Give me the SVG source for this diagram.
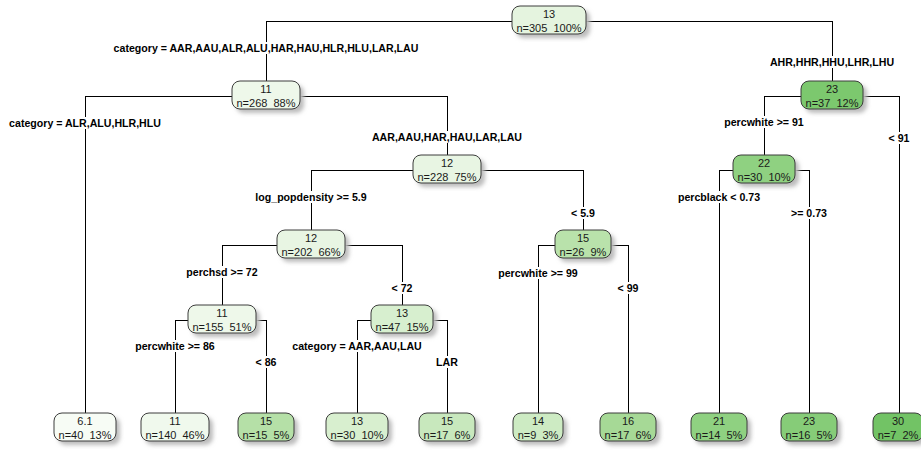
<svg xmlns="http://www.w3.org/2000/svg" width="921" height="451" viewBox="0 0 921 451">
  <defs>
    <filter id="soft" x="-20%" y="-40%" width="140%" height="180%">
      <feGaussianBlur stdDeviation="2"/>
    </filter>
    <style>
      .edge { stroke: #000; stroke-width: 1; fill: none; }
      .lbl { font-family: "Liberation Sans", Arial, sans-serif; font-size: 10.6px; font-weight: bold; text-anchor: middle; fill: #000; }
      .shadow { fill: #bcbcbc; filter: url(#soft); }
      .box { stroke: #3c3c3c; stroke-width: 1; }
      .nt { font-family: "Liberation Sans", Arial, sans-serif; font-size: 11px; text-anchor: middle; fill: #1a1a1a; }
    </style>
  </defs>
  <rect width="921" height="451" fill="#fff"/>

  <!-- branches: horizontal bars under each split, verticals broken where the split label sits -->
  <g id="connectors">
    <path class="edge" d="
      M266,21.5 H832
      M266.5,21 V42 M266.5,54 V81
      M832.5,21 V56 M832.5,68 V81
      M85,96.5 H447
      M85.5,96 V117 M85.5,129 V413
      M447.5,96 V131 M447.5,143 V155
      M764,96.5 H899
      M764.5,96 V116 M764.5,128 V155
      M899.5,96 V132 M899.5,144 V413
      M311,170.5 H583
      M311.5,170 V191 M311.5,203 V230
      M583.5,170 V207 M583.5,219 V230
      M719,170.5 H809
      M719.5,170 V191 M719.5,203 V413
      M809.5,170 V207 M809.5,219 V413
      M222,245.5 H402
      M222.5,245 V266 M222.5,278 V305
      M402.5,245 V282 M402.5,294 V305
      M538,245.5 H628
      M538.5,245 V267 M538.5,279 V413
      M628.5,245 V282 M628.5,294 V413
      M175,320.5 H266
      M175.5,320 V340 M175.5,352 V413
      M266.5,320 V356 M266.5,368 V413
      M357,320.5 H447
      M357.5,320 V340 M357.5,352 V413
      M447.5,320 V356 M447.5,368 V413"/>
    <text class="lbl" x="266" y="52">category = AAR,AAU,ALR,ALU,HAR,HAU,HLR,HLU,LAR,LAU</text>
    <text class="lbl" x="832" y="66">AHR,HHR,HHU,LHR,LHU</text>
    <text class="lbl" x="85" y="127">category = ALR,ALU,HLR,HLU</text>
    <text class="lbl" x="447" y="141">AAR,AAU,HAR,HAU,LAR,LAU</text>
    <text class="lbl" x="764" y="126">percwhite &gt;= 91</text>
    <text class="lbl" x="899" y="142">&lt; 91</text>
    <text class="lbl" x="311" y="201">log_popdensity &gt;= 5.9</text>
    <text class="lbl" x="583" y="217">&lt; 5.9</text>
    <text class="lbl" x="719" y="201">percblack &lt; 0.73</text>
    <text class="lbl" x="809" y="217">&gt;= 0.73</text>
    <text class="lbl" x="222" y="276">perchsd &gt;= 72</text>
    <text class="lbl" x="402" y="292">&lt; 72</text>
    <text class="lbl" x="538" y="277">percwhite &gt;= 99</text>
    <text class="lbl" x="628" y="292">&lt; 99</text>
    <text class="lbl" x="175" y="350">percwhite &gt;= 86</text>
    <text class="lbl" x="266" y="366">&lt; 86</text>
    <text class="lbl" x="357" y="350">category = AAR,AAU,LAU</text>
    <text class="lbl" x="447" y="366">LAR</text>
  </g>

  <!-- split nodes -->
  <g id="node1">
    <rect class="shadow" x="516" y="10" width="74" height="28" rx="8"/>
    <rect class="box" x="512" y="6" width="74" height="28" rx="8" fill="#e5f4df"/>
    <text class="nt" x="549" y="18">13</text>
    <text class="nt" x="549" y="32" xml:space="preserve">n=305  100%</text>
  </g>
  <g id="node2">
    <rect class="shadow" x="236" y="85" width="68" height="28" rx="8"/>
    <rect class="box" x="232" y="81" width="68" height="28" rx="8" fill="#eef8ea"/>
    <text class="nt" x="266" y="93">11</text>
    <text class="nt" x="266" y="107" xml:space="preserve">n=268  88%</text>
  </g>
  <g id="node3">
    <rect class="shadow" x="805" y="85" width="62" height="28" rx="8"/>
    <rect class="box" x="801" y="81" width="62" height="28" rx="8" fill="#7cc86e"/>
    <text class="nt" x="832" y="93">23</text>
    <text class="nt" x="832" y="107" xml:space="preserve">n=37  12%</text>
  </g>
  <g id="node5">
    <rect class="shadow" x="417" y="159" width="68" height="28" rx="8"/>
    <rect class="box" x="413" y="155" width="68" height="28" rx="8" fill="#e8f5e3"/>
    <text class="nt" x="447" y="167">12</text>
    <text class="nt" x="447" y="181" xml:space="preserve">n=228  75%</text>
  </g>
  <g id="node6">
    <rect class="shadow" x="737" y="159" width="62" height="28" rx="8"/>
    <rect class="box" x="733" y="155" width="62" height="28" rx="8" fill="#8fd181"/>
    <text class="nt" x="764" y="167">22</text>
    <text class="nt" x="764" y="181" xml:space="preserve">n=30  10%</text>
  </g>
  <g id="node10">
    <rect class="shadow" x="281" y="234" width="68" height="28" rx="8"/>
    <rect class="box" x="277" y="230" width="68" height="28" rx="8" fill="#e8f5e3"/>
    <text class="nt" x="311" y="242">12</text>
    <text class="nt" x="311" y="256" xml:space="preserve">n=202  66%</text>
  </g>
  <g id="node11">
    <rect class="shadow" x="559" y="234" width="56" height="28" rx="8"/>
    <rect class="box" x="555" y="230" width="56" height="28" rx="8" fill="#b9e2ab"/>
    <text class="nt" x="583" y="242">15</text>
    <text class="nt" x="583" y="256" xml:space="preserve">n=26  9%</text>
  </g>
  <g id="node20">
    <rect class="shadow" x="192" y="309" width="68" height="28" rx="8"/>
    <rect class="box" x="188" y="305" width="68" height="28" rx="8" fill="#eef8ea"/>
    <text class="nt" x="222" y="317">11</text>
    <text class="nt" x="222" y="331" xml:space="preserve">n=155  51%</text>
  </g>
  <g id="node21">
    <rect class="shadow" x="375" y="309" width="62" height="28" rx="8"/>
    <rect class="box" x="371" y="305" width="62" height="28" rx="8" fill="#d7efcf"/>
    <text class="nt" x="402" y="317">13</text>
    <text class="nt" x="402" y="331" xml:space="preserve">n=47  15%</text>
  </g>

  <!-- leaves -->
  <g id="leaf4">
    <rect class="shadow" x="58" y="417" width="62" height="28" rx="8"/>
    <rect class="box" x="54" y="413" width="62" height="28" rx="8" fill="#f7fcf5"/>
    <text class="nt" x="85" y="425">6.1</text>
    <text class="nt" x="85" y="439" xml:space="preserve">n=40  13%</text>
  </g>
  <g id="leaf40">
    <rect class="shadow" x="145" y="417" width="68" height="28" rx="8"/>
    <rect class="box" x="141" y="413" width="68" height="28" rx="8" fill="#f0f9ed"/>
    <text class="nt" x="175" y="425">11</text>
    <text class="nt" x="175" y="439" xml:space="preserve">n=140  46%</text>
  </g>
  <g id="leaf41">
    <rect class="shadow" x="242" y="417" width="56" height="28" rx="8"/>
    <rect class="box" x="238" y="413" width="56" height="28" rx="8" fill="#b5e0a7"/>
    <text class="nt" x="266" y="425">15</text>
    <text class="nt" x="266" y="439" xml:space="preserve">n=15  5%</text>
  </g>
  <g id="leaf42">
    <rect class="shadow" x="330" y="417" width="62" height="28" rx="8"/>
    <rect class="box" x="326" y="413" width="62" height="28" rx="8" fill="#d8efcf"/>
    <text class="nt" x="357" y="425">13</text>
    <text class="nt" x="357" y="439" xml:space="preserve">n=30  10%</text>
  </g>
  <g id="leaf43">
    <rect class="shadow" x="423" y="417" width="56" height="28" rx="8"/>
    <rect class="box" x="419" y="413" width="56" height="28" rx="8" fill="#c8e8bd"/>
    <text class="nt" x="447" y="425">15</text>
    <text class="nt" x="447" y="439" xml:space="preserve">n=17  6%</text>
  </g>
  <g id="leaf22">
    <rect class="shadow" x="517" y="417" width="50" height="28" rx="8"/>
    <rect class="box" x="513" y="413" width="50" height="28" rx="8" fill="#cdebc3"/>
    <text class="nt" x="538" y="425">14</text>
    <text class="nt" x="538" y="439" xml:space="preserve">n=9  3%</text>
  </g>
  <g id="leaf23">
    <rect class="shadow" x="604" y="417" width="56" height="28" rx="8"/>
    <rect class="box" x="600" y="413" width="56" height="28" rx="8" fill="#a6d996"/>
    <text class="nt" x="628" y="425">16</text>
    <text class="nt" x="628" y="439" xml:space="preserve">n=17  6%</text>
  </g>
  <g id="leaf12">
    <rect class="shadow" x="695" y="417" width="56" height="28" rx="8"/>
    <rect class="box" x="691" y="413" width="56" height="28" rx="8" fill="#8fd181"/>
    <text class="nt" x="719" y="425">21</text>
    <text class="nt" x="719" y="439" xml:space="preserve">n=14  5%</text>
  </g>
  <g id="leaf13">
    <rect class="shadow" x="785" y="417" width="56" height="28" rx="8"/>
    <rect class="box" x="781" y="413" width="56" height="28" rx="8" fill="#86cc78"/>
    <text class="nt" x="809" y="425">23</text>
    <text class="nt" x="809" y="439" xml:space="preserve">n=16  5%</text>
  </g>
  <g id="leaf7">
    <rect class="shadow" x="877" y="417" width="50" height="28" rx="8"/>
    <rect class="box" x="873" y="413" width="50" height="28" rx="8" fill="#72c365"/>
    <text class="nt" x="898" y="425">30</text>
    <text class="nt" x="898" y="439" xml:space="preserve">n=7  2%</text>
  </g>
</svg>
